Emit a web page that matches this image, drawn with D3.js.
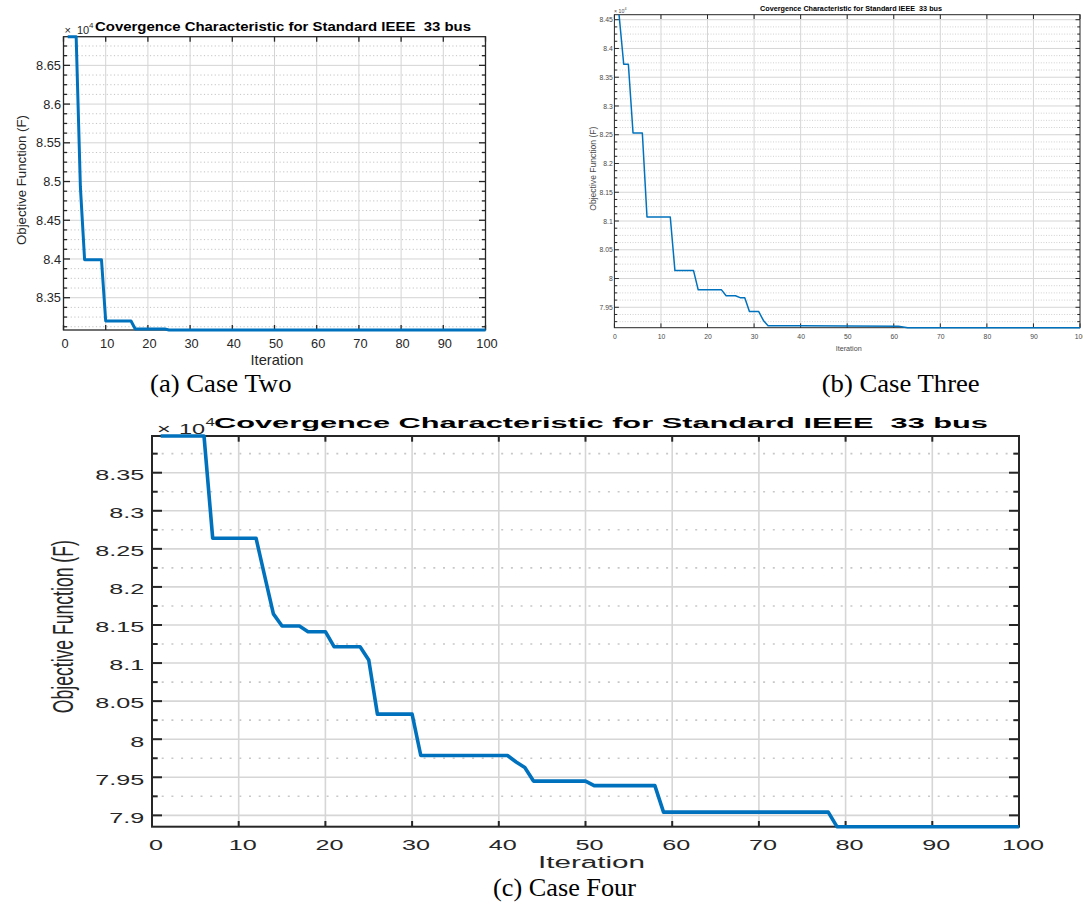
<!DOCTYPE html>
<html>
<head>
<meta charset="utf-8">
<script src="https://cdn.jsdelivr.net/npm/d3@7"></script>
<style>
  body { margin: 0; background: #fff; }
  svg { display: block; }
  text { white-space: pre; }
</style>
</head>
<body>
<svg id="fig" width="1083" height="906"></svg>
<script>
// Objective function values (in units of 10^4) at the iterations where the
// convergence curve changes direction; consecutive points are joined by straight segments.
const caseTwoIter   = [1, 3, 4, 5, 9, 10, 16, 17, 24, 25, 100];
const caseTwoValue  = [8.687, 8.687, 8.493, 8.399, 8.399, 8.3199, 8.3199, 8.3096, 8.3096, 8.3083, 8.3083];

const caseThreeIter  = [1, 2, 3, 4, 6, 7, 12, 13, 17, 18, 23, 24, 26, 27, 28, 29, 31, 32, 33, 40, 50, 61, 62, 63, 100];
const caseThreeValue = [8.4587, 8.3726, 8.3726, 8.2529, 8.2529, 8.107, 8.107, 8.0138, 8.0138, 7.9803, 7.9803,
                        7.970, 7.970, 7.9667, 7.9667, 7.9426, 7.9426, 7.9271, 7.918, 7.9178, 7.9175, 7.9172,
                        7.9158, 7.9145, 7.9145];

const caseFourIter  = [1, 6, 7, 12, 13, 14, 15, 17, 18, 20, 21, 24, 25, 26, 30, 31, 41, 42, 43, 44, 50, 51, 58, 59, 78, 79, 100];
const caseFourValue = [8.3982, 8.3982, 8.264, 8.264, 8.2143, 8.1646, 8.1487, 8.1487, 8.1412, 8.1412, 8.1215, 8.1215,
                       8.104, 8.0329, 8.0329, 7.9786, 7.9786, 7.970, 7.9628, 7.945, 7.945, 7.939, 7.939,
                       7.9042, 7.9042, 7.8851, 7.8851];

// Tick labels
const xTicks         = [0, 10, 20, 30, 40, 50, 60, 70, 80, 90, 100];
const yTicksTwo      = [8.35, 8.4, 8.45, 8.5, 8.55, 8.6, 8.65];
const yTicksThree    = [7.95, 8, 8.05, 8.1, 8.15, 8.2, 8.25, 8.3, 8.35, 8.4, 8.45];
const yTicksFour     = [7.9, 7.95, 8, 8.05, 8.1, 8.15, 8.2, 8.25, 8.3, 8.35];

const titleText  = "Covergence Characteristic for Standard IEEE  33 bus";
const xLabelText = "Iteration";
const yLabelText = "Objective Function (F)";
const captions   = ["(a) Case Two", "(b) Case Three", "(c) Case Four"];

const SANS  = "'Liberation Sans', Arial, Helvetica, sans-serif";
const SERIF = "'Liberation Serif', 'Times New Roman', serif";
const BLUE  = "#0072BD";
const INK   = "#262626";

const svg = d3.select("#fig");

function addText(parent, str, x, y, o) {
  let tr = `translate(${x},${y})`;
  if (o.rotate) tr += ` rotate(${o.rotate})`;
  if ((o.sx || 1) !== 1 || (o.sy || 1) !== 1) tr += ` scale(${o.sx || 1},${o.sy || 1})`;
  const t = parent.append("text")
    .attr("transform", tr)
    .attr("text-anchor", o.anchor || "start")
    .attr("font-family", o.family || SANS)
    .attr("font-size", o.size)
    .attr("font-weight", o.weight || "normal")
    .attr("fill", o.fill || INK)
    .text(str);
  if (o.length) t.attr("textLength", o.length).attr("lengthAdjust", "spacingAndGlyphs");
  return t;
}

function minorValues(domain, step, ratio) {
  const out = [];
  const k0 = Math.ceil(domain[0] / step - 1e-9), k1 = Math.floor(domain[1] / step + 1e-9);
  for (let k = k0; k <= k1; k++) {
    if (k % ratio === 0) continue;
    out.push(+(k * step).toFixed(6));
  }
  return out;
}

function drawPanel(p) {
  const g = svg.append("g");
  const pts = p.iter.map((it, i) => ({ it, v: p.value[i] }));
  const x = d3.scaleLinear().domain([0, 100]).range([p.left, p.right]);
  const yDom = d3.extent(p.value);
  const y = d3.scaleLinear().domain(yDom).range([p.bottom, p.top]);
  const yMinor = minorValues(yDom, p.minorStep, p.minorRatio);

  // minor horizontal grid (dotted)
  g.append("g").selectAll("line").data(yMinor).join("line")
    .attr("x1", p.left).attr("x2", p.right)
    .attr("y1", d => y(d)).attr("y2", d => y(d))
    .attr("stroke", p.minorColor).attr("stroke-width", p.gridW)
    .attr("stroke-dasharray", p.dash);

  // major grid
  g.append("g").selectAll("line").data(p.yTicks).join("line")
    .attr("x1", p.left).attr("x2", p.right)
    .attr("y1", d => y(d)).attr("y2", d => y(d))
    .attr("stroke", p.gridColor).attr("stroke-width", p.gridW);
  g.append("g").selectAll("line").data(xTicks.slice(1, -1)).join("line")
    .attr("x1", d => x(d)).attr("x2", d => x(d))
    .attr("y1", p.top).attr("y2", p.bottom)
    .attr("stroke", p.gridColor).attr("stroke-width", p.gridW);

  // tick marks pointing inward on all four sides
  const tk = g.append("g").attr("stroke", INK).attr("stroke-width", p.boxW);
  p.yTicks.forEach(v => {
    tk.append("line").attr("x1", p.left).attr("x2", p.left + p.yMajorLen).attr("y1", y(v)).attr("y2", y(v));
    tk.append("line").attr("x1", p.right).attr("x2", p.right - p.yMajorLen).attr("y1", y(v)).attr("y2", y(v));
  });
  yMinor.forEach(v => {
    tk.append("line").attr("x1", p.left).attr("x2", p.left + p.yMinorLen).attr("y1", y(v)).attr("y2", y(v));
    tk.append("line").attr("x1", p.right).attr("x2", p.right - p.yMinorLen).attr("y1", y(v)).attr("y2", y(v));
  });
  xTicks.forEach(v => {
    tk.append("line").attr("x1", x(v)).attr("x2", x(v)).attr("y1", p.bottom).attr("y2", p.bottom - p.xTickLen);
    tk.append("line").attr("x1", x(v)).attr("x2", x(v)).attr("y1", p.top).attr("y2", p.top + p.xTickLen);
  });

  // axes box
  g.append("rect")
    .attr("x", p.left).attr("y", p.top)
    .attr("width", p.right - p.left).attr("height", p.bottom - p.top)
    .attr("fill", "none").attr("stroke", INK).attr("stroke-width", p.boxW);

  // tick labels
  const lab = g.append("g");
  p.yTicks.forEach(v => addText(lab, String(v), p.yLabelRight, y(v) + p.yLabelDy,
    { anchor: "end", size: p.tickSize, sx: p.sx, fill: p.tickFill }));
  xTicks.forEach(v => addText(lab, String(v), x(v) + p.xLabelDx, p.xLabelBase,
    { anchor: "middle", size: p.tickSize, sx: p.sx, fill: p.tickFill }));

  // exponent marker
  addText(g, "\u00d7", p.exp.x1, p.exp.base, { size: p.exp.size, sx: p.sx, fill: p.tickFill });
  addText(g, "10", p.exp.x2, p.exp.base, { size: p.exp.size, sx: p.sx, fill: p.tickFill });
  addText(g, "4", p.exp.x3, p.exp.base - p.exp.rise, { size: p.exp.size * 0.72, sx: p.sx, fill: p.tickFill });

  // title and axis labels
  addText(g, titleText, p.title.x, p.title.base,
    { size: p.title.size, weight: "bold", fill: "#000", length: p.title.len });
  addText(g, xLabelText, p.xl.x, p.xl.base,
    { anchor: p.xl.anchor || "middle", size: p.xl.size, length: p.xl.len, fill: p.tickFill });
  addText(g, yLabelText, p.yl.x, p.yl.y,
    { anchor: "middle", rotate: -90, sy: p.yl.sy || 1, size: p.yl.size, length: p.yl.len, fill: p.tickFill });

  // convergence curve
  g.append("path").datum(pts)
    .attr("d", d3.line().x(d => x(d.it)).y(d => y(d.v)))
    .attr("fill", "none").attr("stroke", BLUE)
    .attr("stroke-width", p.lineW).attr("stroke-linejoin", "round");

  // caption
  addText(svg, p.caption.text, p.caption.x, p.caption.base,
    { family: SERIF, size: p.caption.size, fill: "#000", length: p.caption.len });
}

// (a) Case Two
drawPanel({
  iter: caseTwoIter, value: caseTwoValue, yTicks: yTicksTwo,
  left: 63.5, right: 485.5, top: 36.7, bottom: 330,
  minorStep: 0.0125, minorRatio: 4,
  gridColor: "#d4d4d4", minorColor: "#c4c4c4", gridW: 1, dash: "1.2 2.4",
  boxW: 1.3, yMajorLen: 6.5, yMinorLen: 3.5, xTickLen: 5,
  tickSize: 12.8, sx: 1, tickFill: INK,
  yLabelRight: 61, yLabelDy: 4.6, xLabelDx: 1.5, xLabelBase: 348,
  exp: { x1: 64.5, x2: 77, x3: 89, base: 34, size: 11, rise: 6 },
  title: { x: 95, base: 30.5, size: 12.5, len: 376 },
  xl: { x: 277, base: 365, size: 14.5, len: 53 },
  yl: { x: 25.5, y: 180, size: 13.2, len: 130 },
  lineW: 3,
  caption: { text: captions[0], x: 150, base: 392, size: 25.5, len: 141.5 }
});

// (b) Case Three
drawPanel({
  iter: caseThreeIter, value: caseThreeValue, yTicks: yTicksThree,
  left: 614.4, right: 1080, top: 14.7, bottom: 327.7,
  minorStep: 0.0125, minorRatio: 4,
  gridColor: "#d6d6d6", minorColor: "#d0d0d0", gridW: 1, dash: "1 1.6",
  boxW: 1, yMajorLen: 4.5, yMinorLen: 2.7, xTickLen: 4.3,
  tickSize: 6.8, sx: 1, tickFill: "#4a4a4a",
  yLabelRight: 612.7, yLabelDy: 2.6, xLabelDx: 0.5, xLabelBase: 338.5,
  exp: { x1: 614, x2: 618.5, x3: 624.6, base: 13.3, size: 5.2, rise: 3 },
  title: { x: 760, base: 11, size: 7.7, len: 182 },
  xl: { x: 848.7, base: 350.5, size: 7.3, len: 26 },
  yl: { x: 595.6, y: 168.7, size: 8.5, len: 84 },
  lineW: 1.5,
  caption: { text: captions[1], x: 821.7, base: 392, size: 26, len: 158 }
});

// (c) Case Four
drawPanel({
  iter: caseFourIter, value: caseFourValue, yTicks: yTicksFour,
  left: 152, right: 1019, top: 436, bottom: 826.7,
  minorStep: 0.025, minorRatio: 2,
  gridColor: "#d6d6d6", minorColor: "#c8c8c8", gridW: 1.6, dash: "2 7.7",
  boxW: 2, yMajorLen: 10, yMinorLen: 5.7, xTickLen: 5.7,
  tickSize: 15, sx: 1.68, tickFill: INK,
  yLabelRight: 144.3, yLabelDy: 7.3, xLabelDx: 4, xLabelBase: 850,
  exp: { x1: 157, x2: 179, x3: 205.5, base: 433.5, size: 14, rise: 8 },
  title: { x: 214, base: 428.3, size: 14, len: 774 },
  xl: { x: 538, base: 868, anchor: "start", size: 16, len: 107 },
  yl: { x: 73, y: 626.7, size: 17.6, sy: 1.7, len: 173 },
  lineW: 3.6,
  caption: { text: captions[2], x: 493, base: 895.5, size: 25, len: 143 }
});
</script>
</body>
</html>
